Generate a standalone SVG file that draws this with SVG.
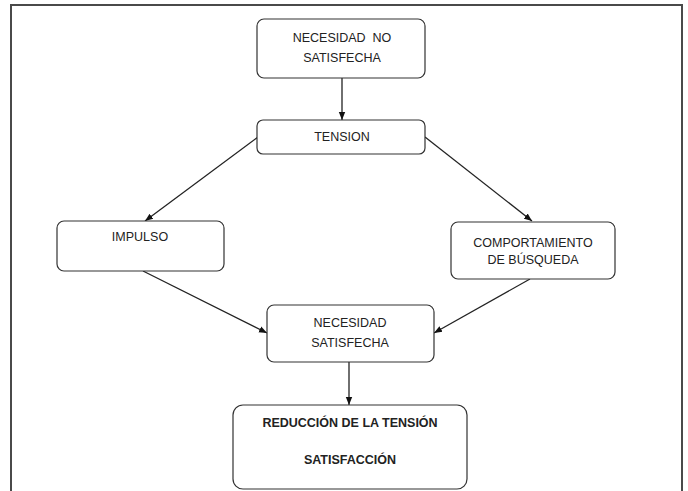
<svg xmlns="http://www.w3.org/2000/svg" width="688" height="491" viewBox="0 0 688 491">
<style>
.box{fill:#fff;stroke:#333;stroke-width:1.2}
.t{font-family:"Liberation Sans",Arial,sans-serif;font-size:12.5px;fill:#222;text-anchor:middle}
.b{font-weight:bold}
.c{stroke:#222;stroke-width:1.3;fill:none;marker-end:url(#ah)}
</style>
<defs>
<marker id="ah" viewBox="0 0 10 10" refX="10" refY="5" markerWidth="8" markerHeight="8" markerUnits="userSpaceOnUse" orient="auto">
<path d="M0,1 L10,5 L0,9 Z" fill="#111"/>
</marker>
</defs>
<rect width="688" height="491" fill="#fff"/>
<path d="M11,491 V5 H682 V491" fill="none" stroke="#4a4a4a" stroke-width="2"/>
<g id="connectors">
<line class="c" x1="342" y1="78" x2="342" y2="120"/>
<line class="c" x1="258" y1="137" x2="145" y2="221"/>
<line class="c" x1="425" y1="137" x2="532" y2="221"/>
<line class="c" x1="143" y1="271" x2="267" y2="333"/>
<line class="c" x1="530" y1="279" x2="434" y2="333"/>
<line class="c" x1="349" y1="362" x2="349" y2="405"/>
</g>
<g id="n1">
<rect class="box" x="257" y="19" width="168" height="59" rx="7"/>
<text class="t" x="342" y="42" style="white-space:pre">NECESIDAD  NO</text>
<text class="t" x="342" y="62">SATISFECHA</text>
</g>
<g id="n2">
<rect class="box" x="257" y="120" width="168" height="34" rx="6"/>
<text class="t" x="342" y="141">TENSION</text>
</g>
<g id="n3">
<rect class="box" x="57" y="221" width="167" height="50" rx="7"/>
<text class="t" x="140" y="241">IMPULSO</text>
</g>
<g id="n4">
<rect class="box" x="451" y="222" width="164" height="57" rx="7"/>
<text class="t" x="533" y="247">COMPORTAMIENTO</text>
<text class="t" x="533" y="264">DE BÚSQUEDA</text>
</g>
<g id="n5">
<rect class="box" x="267" y="305" width="167" height="57" rx="7"/>
<text class="t" x="350" y="327">NECESIDAD</text>
<text class="t" x="350" y="347">SATISFECHA</text>
</g>
<g id="n6">
<rect class="box" x="233" y="405" width="234" height="84" rx="10"/>
<text class="t b" x="350" y="427">REDUCCIÓN DE LA TENSIÓN</text>
<text class="t b" x="350" y="464">SATISFACCIÓN</text>
</g>
</svg>
